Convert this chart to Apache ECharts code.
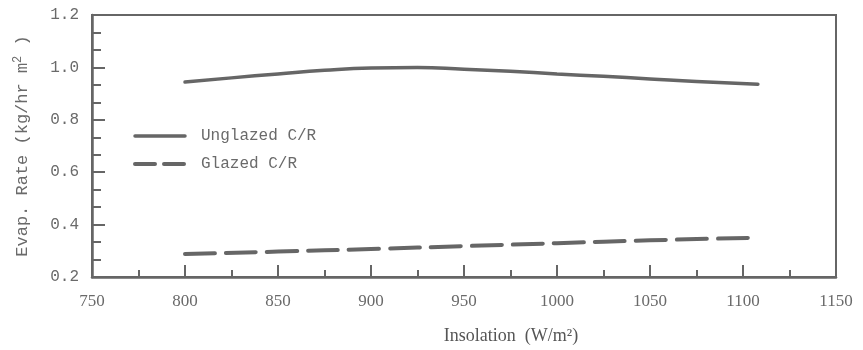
<!DOCTYPE html>
<html>
<head>
<meta charset="utf-8">
<script src="https://cdn.jsdelivr.net/npm/echarts@6/dist/echarts.min.js"></script>
<style>html,body{margin:0;padding:0;background:#fff;}#c{width:863px;height:350px;}</style>
</head>
<body>
<div id="c"></div>
<script>
const insolation = [800, 825, 850, 875, 900, 925, 950, 975, 1000, 1025, 1050, 1075, 1108];
const unglazed   = [0.944, 0.960, 0.975, 0.989, 0.998, 1.000, 0.993, 0.985, 0.975, 0.966, 0.956, 0.946, 0.936];
const glazedX    = [800, 850, 900, 950, 1000, 1050, 1108];
const glazed     = [0.288, 0.297, 0.307, 0.318, 0.329, 0.340, 0.350];
const seriesNames = ['Unglazed C/R', 'Glazed C/R'];
const xTitle = 'Insolation  (W/m²)';

const ink = '#666';
const txt = '#6a6a6a';
const mono = '"Liberation Mono", "DejaVu Sans Mono", monospace';
const serif = '"Liberation Serif", "DejaVu Serif", serif';

const chart = echarts.init(document.getElementById('c'), null, {renderer: 'canvas'});
chart.setOption({
  animation: false,
  backgroundColor: '#fff',
  grid: {left: 92, right: 27, top: 15, bottom: 73, show: true, borderColor: ink, borderWidth: 2, backgroundColor: 'transparent'},
  legend: {
    orient: 'vertical', left: 128, top: 123, itemWidth: 50, itemHeight: 14, itemGap: 12,
    itemStyle: {color: 'transparent', borderWidth: 0, opacity: 0},
    data: [
      {name: seriesNames[0], lineStyle: {color: ink, width: 3.5}},
      {name: seriesNames[1], lineStyle: {color: ink, width: 4, type: [20, 9]}}
    ],
    textStyle: {fontFamily: mono, fontSize: 16, color: txt, padding: [0, 0, 0, 11]}
  },
  xAxis: {
    type: 'value', min: 750, max: 1150, interval: 50,
    name: xTitle, nameLocation: 'middle', nameGap: 50,
    nameTextStyle: {fontFamily: serif, fontSize: 18, color: '#555', padding: [0, 0, 0, 94]},
    axisLine: {show: true, lineStyle: {color: ink, width: 2.5}},
    axisTick: {show: true, inside: true, length: 12, lineStyle: {color: ink, width: 2}},
    minorTick: {show: true, splitNumber: 2, length: 7, lineStyle: {color: ink, width: 2}},
    splitLine: {show: false},
    axisLabel: {fontFamily: serif, fontSize: 17, color: txt, margin: 16, formatter: v => String(v)}
  },
  yAxis: {
    type: 'value', min: 0.2, max: 1.2, interval: 0.2,
    name: '{a|Evap. Rate (kg/hr m}{s|2}{a| )}', nameLocation: 'middle', nameGap: 60, nameRotate: 90,
    nameTextStyle: {
      rich: {
        a: {fontFamily: mono, fontSize: 17, color: txt},
        s: {fontFamily: mono, fontSize: 12, color: txt, verticalAlign: 'top', padding: [0, 0, 8, 0]}
      }
    },
    axisLine: {show: true, lineStyle: {color: ink, width: 2.5}},
    axisTick: {show: true, inside: true, length: 13, lineStyle: {color: ink, width: 2}},
    minorTick: {show: true, splitNumber: 3, length: 9, lineStyle: {color: ink, width: 2}},
    splitLine: {show: false},
    axisLabel: {fontFamily: mono, fontSize: 16, color: txt, margin: 13, formatter: v => v.toFixed(1)}
  },
  series: [
    {
      name: seriesNames[0], type: 'line', smooth: true, symbol: 'none',
      data: insolation.map((x, i) => [x, unglazed[i]]),
      lineStyle: {color: ink, width: 3.5, cap: 'round'},
      itemStyle: {color: ink}
    },
    {
      name: seriesNames[1], type: 'line', smooth: true, symbol: 'none',
      data: glazedX.map((x, i) => [x, glazed[i]]),
      lineStyle: {color: ink, width: 4, type: [30, 11], cap: 'round'},
      itemStyle: {color: ink}
    }
  ]
});
</script>
</body>
</html>
